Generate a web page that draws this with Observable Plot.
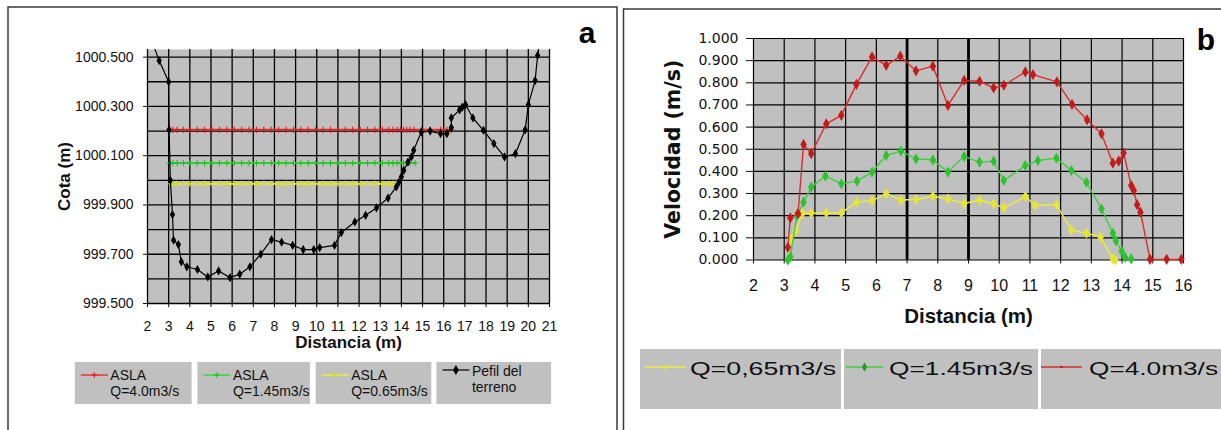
<!DOCTYPE html>
<html><head><meta charset="utf-8">
<script src="https://cdn.jsdelivr.net/npm/d3@7"></script>
<script src="https://cdn.jsdelivr.net/npm/@observablehq/plot@0.6"></script>
<style>
body{margin:0;background:#fff;}
#wrap{position:relative;width:1221px;height:430px;overflow:hidden;font-family:"Liberation Sans",Arial,sans-serif;}
#a{position:absolute;left:0;top:0;}
#b{position:absolute;left:623px;top:0;}
#ov{position:absolute;left:0;top:0;pointer-events:none;}
</style></head><body>
<div id="wrap"><div id="a"></div><div id="b"></div><svg id="ov" width="1221" height="430"></svg></div>
<script>
// ---------- Panel a: perfil del terreno y niveles ASLA ----------
const terrenoX = [2.15,2.55,3.0,3.02,3.08,3.18,3.23,3.46,3.6,3.86,4.36,4.85,5.36,5.9,6.36,6.84,7.35,7.86,8.34,8.86,9.36,9.86,10.14,10.84,11.16,11.8,12.31,12.82,13.37,13.76,13.89,14.0,14.11,14.31,14.47,14.58,14.94,15.36,15.85,16.15,16.36,16.36,16.75,16.88,17.03,17.38,17.88,18.37,18.87,19.39,19.85,20.0,20.32,20.44,20.6];
const terrenoY = [1000.58,1000.486,1000.40,1000.205,1000.0,999.861,999.757,999.739,999.669,999.649,999.638,999.608,999.632,999.605,999.619,999.649,999.70,999.759,999.749,999.736,999.719,999.719,999.727,999.736,999.788,999.831,999.858,999.888,999.928,999.973,999.993,1000.014,1000.04,1000.074,1000.095,1000.122,1000.196,1000.20,1000.189,1000.189,1000.214,1000.253,1000.286,1000.297,1000.307,1000.253,1000.203,1000.149,1000.095,1000.108,1000.205,1000.307,1000.405,1000.507,1000.60];
const aslaRojoNivel = 1000.205;
const aslaVerdeNivel = 1000.070;
const aslaAmarilloNivel = 999.986;
const aslaRojoX = [3.05,3.2,3.4,3.7,4.0,4.35,4.7,5.05,5.4,5.75,6.1,6.45,6.8,7.15,7.5,7.85,8.2,8.55,8.9,9.25,9.6,9.95,10.3,10.65,11.0,11.35,11.7,12.05,12.4,12.75,13.1,13.4,13.6,13.8,13.95,14.1,14.25,14.4,14.6,14.95,15.35,15.85,16.15,16.35];
const aslaVerdeX = [3.05,3.2,3.4,3.7,4.0,4.35,4.7,5.05,5.4,5.75,6.1,6.45,6.8,7.15,7.5,7.85,8.2,8.55,8.9,9.25,9.6,9.95,10.3,10.65,11.0,11.35,11.7,12.05,12.4,12.75,13.1,13.4,13.6,13.8,13.95,14.1,14.25,14.4,14.65];
const aslaAmarilloX = [3.08,3.2,3.4,3.7,4.0,4.35,4.7,5.05,5.4,5.75,6.1,6.45,6.8,7.15,7.5,7.85,8.2,8.55,8.9,9.25,9.6,9.95,10.3,10.65,11.0,11.35,11.7,12.05,12.4,12.75,13.1,13.4,13.6,13.75];
const xTicksA = [2,3,4,5,6,7,8,9,10,11,12,13,14,15,16,17,18,19,20,21];
const yTicksA = [999.5,999.7,999.9,1000.1,1000.3,1000.5];
const yGridA = [999.5,999.6,999.7,999.8,999.9,1000.0,1000.1,1000.2,1000.3,1000.4,1000.5];
const legendA = [["ASLA","Q=4.0m3/s"],["ASLA","Q=1.45m3/s"],["ASLA","Q=0.65m3/s"],["Pefil del","terreno"]];

// ---------- Panel b: velocidad ----------
const rojoX = [3.12,3.2,3.45,3.63,3.88,4.37,4.86,5.35,5.86,6.32,6.78,7.29,7.84,8.33,8.86,9.36,9.82,10.15,10.85,11.1,11.88,12.37,12.86,13.33,13.7,13.89,14.05,14.3,14.38,14.49,14.6,14.91,15.45,15.93];
const rojoV = [0.057,0.19,0.21,0.522,0.48,0.615,0.653,0.793,0.917,0.879,0.92,0.854,0.875,0.698,0.811,0.807,0.777,0.789,0.849,0.837,0.804,0.703,0.633,0.57,0.437,0.446,0.483,0.336,0.314,0.25,0.216,0.003,0.003,0.003];
const verdeX = [3.12,3.2,3.41,3.63,3.88,4.34,4.86,5.37,5.86,6.32,6.8,7.29,7.84,8.33,8.86,9.36,9.82,10.15,10.85,11.26,11.86,12.35,12.84,13.33,13.7,13.8,13.99,14.1,14.3];
const verdeV = [0.0,0.015,0.2,0.261,0.329,0.379,0.344,0.356,0.397,0.472,0.492,0.457,0.452,0.397,0.468,0.442,0.446,0.359,0.427,0.449,0.46,0.404,0.351,0.231,0.121,0.087,0.039,0.012,0.005];
const amarilloX = [3.12,3.2,3.38,3.6,3.88,4.37,4.86,5.35,5.86,6.32,6.8,7.29,7.84,8.33,8.86,9.36,9.82,10.15,10.85,11.17,11.86,12.35,12.84,13.3,13.7,13.78];
const amarilloV = [0.0,0.095,0.133,0.211,0.211,0.213,0.213,0.261,0.268,0.299,0.271,0.273,0.288,0.276,0.255,0.271,0.253,0.235,0.287,0.246,0.25,0.136,0.121,0.103,0.005,0.0];
const xTicksB = [2,3,4,5,6,7,8,9,10,11,12,13,14,15,16];
const yTicksB = [0,0.1,0.2,0.3,0.4,0.5,0.6,0.7,0.8,0.9,1.0];
const xThickB = [7,9];
const legendB = ["Q=0,65m3/s","Q=1.45m3/s","Q=4.0m3/s"];

const colA = {rojo:"#ee3333", verde:"#33dd33", amarillo:"#eeee33", terreno:"#000"};
const colB = {rojo:"#dd2b2b", rojoM:"#c41a1a", verde:"#3ccf3c", verdeM:"#2cc42c", amarillo:"#eded3a", amarilloM:"#e6e630"};

const rowsXY = (xs, ys) => xs.map((x,i)=>({x, y: ys[i]}));
const rowsLevel = (xs, lvl) => xs.map(x=>({x, y: lvl}));

const terreno = rowsXY(terrenoX, terrenoY);
const aRojo = rowsLevel(aslaRojoX, aslaRojoNivel);
const aVerde = rowsLevel(aslaVerdeX, aslaVerdeNivel);
const aAmar = rowsLevel(aslaAmarilloX, aslaAmarilloNivel);

const grid = {stroke:"#000", strokeOpacity:1, strokeWidth:1.3};

const plotA = Plot.plot({
  width: 610, height: 360,
  marginLeft: 147, marginRight: 61, marginTop: 49, marginBottom: 57,
  style: {fontFamily:"'Liberation Sans', Arial, sans-serif", fontSize:"14px", color:"#111", background:"transparent", overflow:"visible"},
  x: {domain:[2,21]},
  y: {domain:[999.5,1000.531]},
  marks: [
    Plot.frame({fill:"#c0c0c0", stroke:null}),
    Plot.gridX(xTicksA, grid),
    Plot.gridY(yGridA, grid),
    Plot.axisX(xTicksA, {tickSize:4, tickPadding:14, fontSize:14, label:"Distancia (m)", labelArrow:"none", labelAnchor:"center", labelOffset:44}),
    Plot.axisY(yTicksA, {tickSize:4, tickPadding:10, fontSize:14, tickFormat:d=>d.toFixed(3), label:"Cota (m)", labelArrow:"none", labelAnchor:"center", labelOffset:90}),
    Plot.line(aRojo, {x:"x", y:"y", stroke:colA.rojo, strokeWidth:2}),
    Plot.dot(aRojo, {x:"x", y:"y", symbol:"plus", r:2.2, stroke:"#cc2020", strokeWidth:1}),
    Plot.line(aVerde, {x:"x", y:"y", stroke:colA.verde, strokeWidth:2}),
    Plot.dot(aVerde, {x:"x", y:"y", symbol:"plus", r:2.2, stroke:"#22bb22", strokeWidth:1}),
    Plot.line(aAmar, {x:"x", y:"y", stroke:colA.amarillo, strokeWidth:2}),
    Plot.dot(aAmar, {x:"x", y:"y", symbol:"plus", r:2.2, stroke:"#d8d820", strokeWidth:1}),
    Plot.line(terreno, {x:"x", y:"y", stroke:"#000", strokeWidth:1.2, clip:true}),
    Plot.dot(terreno, {x:"x", y:"y", symbol:"diamond", r:2.8, fill:"#000", stroke:null, clip:true})
  ]
});
document.getElementById("a").appendChild(plotA);

const bRojo = rowsXY(rojoX, rojoV);
const bVerde = rowsXY(verdeX, verdeV);
const bAmar = rowsXY(amarilloX, amarilloV);

const plotB = Plot.plot({
  width: 598, height: 340,
  marginLeft: 130, marginRight: 38, marginTop: 38, marginBottom: 80.5,
  style: {fontFamily:"'Liberation Sans', Arial, sans-serif", fontSize:"16px", color:"#111", background:"transparent", overflow:"visible"},
  x: {domain:[2,16]},
  y: {domain:[0,1]},
  marks: [
    Plot.frame({fill:"#c0c0c0", stroke:null}),
    Plot.gridX(xTicksB, {stroke:"#000", strokeOpacity:1, strokeWidth:1.2}),
    Plot.ruleX(xThickB, {stroke:"#000", strokeWidth:2.8}),
    Plot.gridY(yTicksB, {stroke:"#000", strokeOpacity:1, strokeWidth:1.2}),
    Plot.axisX(xTicksB, {tickSize:4, tickPadding:16, fontSize:16, label:"Distancia (m)", labelArrow:"none", labelAnchor:"center", labelOffset:63}),
    Plot.axisY(yTicksB, {tickSize:7, tickPadding:8, fontSize:14, fontFamily:"'DejaVu Sans', sans-serif", tickFormat:d=>d.toFixed(3), label:"Velocidad (m/s)", labelArrow:"none", labelAnchor:"center", labelOffset:88}),
    Plot.line(bAmar, {x:"x", y:"y", stroke:colB.amarillo, strokeWidth:1.4}),
    Plot.dot(bAmar, {x:"x", y:"y", symbol:"diamond", r:3.4, fill:colB.amarilloM, stroke:null}),
    Plot.line(bVerde, {x:"x", y:"y", stroke:colB.verde, strokeWidth:1.4}),
    Plot.dot(bVerde, {x:"x", y:"y", symbol:"diamond", r:3.4, fill:colB.verdeM, stroke:null}),
    Plot.line(bRojo, {x:"x", y:"y", stroke:colB.rojo, strokeWidth:1.4}),
    Plot.dot(bRojo, {x:"x", y:"y", symbol:"diamond", r:3.4, fill:colB.rojoM, stroke:null})
  ]
});
document.getElementById("b").appendChild(plotB);

// bold axis titles, no arrows
function styleLabels(svg, size) {
  const g = d3.select(svg).selectAll('g[aria-label="x-axis label"], g[aria-label="y-axis label"]');
  g.attr("font-weight","bold").attr("font-size",size);
  g.selectAll("text").each(function(){
    const t = d3.select(this);
    t.text(t.text().replace(/[←↑→↓]/g,"").trim());
  });
}
styleLabels(plotA, 17);
styleLabels(plotB, 20.5);

// ---------- overlay: frames, panel letters, legends ----------
const ov = d3.select("#ov");
ov.append("rect").attr("x",8).attr("y",7).attr("width",609).attr("height",440).attr("fill","none").attr("stroke","#3a3a3a").attr("stroke-width",1.5);
ov.append("rect").attr("x",623.5).attr("y",9).attr("width",620).attr("height",440).attr("fill","none").attr("stroke","#3a3a3a").attr("stroke-width",1.5);
ov.append("text").attr("x",587).attr("y",43).attr("text-anchor","middle").attr("font-weight","bold").attr("font-size",30).attr("font-family","'Liberation Sans', Arial, sans-serif").text("a");
ov.append("text").attr("x",1206).attr("y",50).attr("text-anchor","middle").attr("font-weight","bold").attr("font-size",30).attr("font-family","'Liberation Sans', Arial, sans-serif").text("b");

// legend a
const boxesA = [[74.8,191.6],[197.4,309.9],[315.7,431.3],[436.4,551.1]];
const symA = [
  {stroke:"#ee3333", mk:"#cc2020"},
  {stroke:"#33dd33", mk:"#22bb22"},
  {stroke:"#eeee33", mk:"#d8d820"},
  {stroke:"#000", mk:"#000"}
];
boxesA.forEach(([x0,x1],i)=>{
  const g = ov.append("g").attr("font-family","'Liberation Sans', Arial, sans-serif").attr("font-size",14);
  g.append("rect").attr("x",x0).attr("y",362).attr("width",x1-x0).attr("height",42).attr("fill","#c0c0c0");
  const ly = i===3 ? 370 : 375;
  const lx0 = x0+6, lx1 = x0+33;
  g.append("line").attr("x1",lx0).attr("x2",lx1).attr("y1",ly).attr("y2",ly).attr("stroke",symA[i].stroke).attr("stroke-width",i===3?1.2:1.5);
  const s = symA[i];
  if (i===3) g.append("path").attr("d",d3.symbol(d3.symbolDiamond,30)()).attr("transform",`translate(${(lx0+lx1)/2},${ly})`).attr("fill","#000");
  else g.append("path").attr("d","M-3,0H3M0,-3V3").attr("transform",`translate(${(lx0+lx1)/2},${ly})`).attr("stroke",s.mk).attr("stroke-width",1);
  const tx = x0+35.5;
  const b1 = i===3 ? 376 : 380, b2 = i===3 ? 392 : 396;
  g.append("text").attr("x",tx).attr("y",b1).attr("fill","#111").text(legendA[i][0]);
  g.append("text").attr("x",tx).attr("y",b2).attr("fill","#111").text(legendA[i][1]);
});

// legend b
const boxesB = [[640,841],[844,1038],[1041,1224]];
const lineB = [[645,686],[846,883],[1041,1082]];
const textB = [[690,146],[889,144],[1089,129]];
const colsB = [[colB.amarillo,colB.amarilloM,"plus"],[colB.verde,"#1c9e1c","diamond"],[colB.rojo,colB.rojoM,"dot"]];
boxesB.forEach(([x0,x1],i)=>{
  const g = ov.append("g").attr("font-family","'Liberation Sans', Arial, sans-serif");
  g.append("rect").attr("x",x0).attr("y",349).attr("width",x1-x0).attr("height",60).attr("fill","#c0c0c0");
  const [l0,l1] = lineB[i];
  const cy = 367, cx = (l0+l1)/2;
  g.append("line").attr("x1",l0).attr("x2",l1).attr("y1",cy).attr("y2",cy).attr("stroke",colsB[i][0]).attr("stroke-width",1.5);
  if (colsB[i][2]==="plus") g.append("path").attr("d","M-3.5,0H3.5M0,-3.5V3.5").attr("transform",`translate(${cx},${cy})`).attr("stroke",colsB[i][1]).attr("stroke-width",1.3);
  else if (colsB[i][2]==="diamond") g.append("path").attr("d",d3.symbol(d3.symbolDiamond,24)()).attr("transform",`translate(${cx},${cy})`).attr("fill",colsB[i][1]);
  else g.append("circle").attr("cx",cx).attr("cy",cy).attr("r",1.3).attr("fill",colsB[i][1]);
  g.append("text").attr("x",textB[i][0]).attr("y",375).attr("font-size",19).attr("fill","#111")
    .attr("textLength",textB[i][1]).attr("lengthAdjust","spacingAndGlyphs").text(legendB[i]);
});
</script>
</body></html>
